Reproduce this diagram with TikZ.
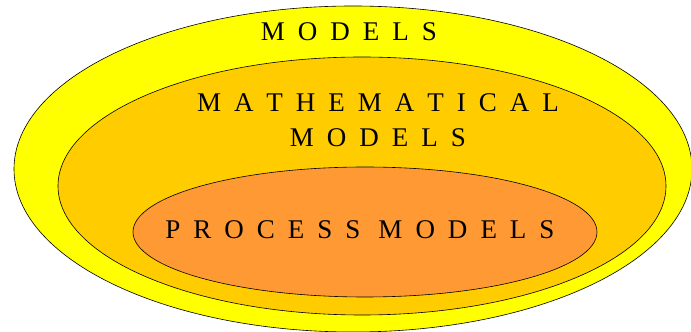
\documentclass[tikz,border=0pt]{standalone}
\usepackage{fontspec}
\setmainfont{Liberation Serif}
\definecolor{outery}{RGB}{255,255,0}
\definecolor{midy}{RGB}{255,204,0}
\definecolor{innero}{RGB}{255,153,51}
\newcommand\lblfont{\fontsize{27}{35}\selectfont\spaceskip 13pt\relax}
\begin{document}
\begin{tikzpicture}[x=1pt,y=1pt,
  ring/.style={draw=black,line width=0.6pt},
  lbl/.style={font={\lblfont},inner sep=0pt,align=center,text=black}]
\useasboundingbox (0,0) rectangle (691,332);
\fill[white] (0,0) rectangle (691,332);
\path[ring,fill=outery] (353,163) ellipse [x radius=339, y radius=163];
\path[ring,fill=midy] (362,146) ellipse [x radius=304, y radius=129];
\path[ring,fill=innero] (365,100) ellipse [x radius=232, y radius=65];
\node[lbl] (models) at (349,300) {M O D E L S};
\node[lbl] (math) at (378,212) {M A T H E M A T I C A L\\M O D E L S};
\node[lbl] (proc) at (360,102) {P R O C E S S\hspace{18pt}M O D E L S};
\end{tikzpicture}
\end{document}
